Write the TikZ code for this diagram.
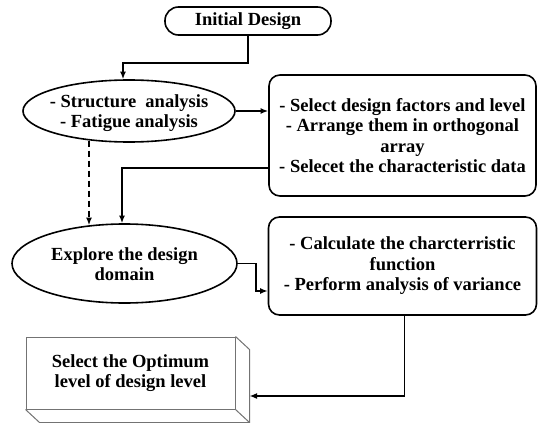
\documentclass[tikz,border=0pt]{standalone}
\usepackage{fontspec}
\setmainfont{Liberation Serif}
\usetikzlibrary{shapes.geometric,arrows.meta,calc}
\begin{document}
\begin{tikzpicture}[x=1pt,y=-1pt,
  every node/.style={font=\fontsize{18.5}{20.5}\selectfont\bfseries},
  txt/.style={align=center, inner sep=0pt},
  rbox/.style={draw, line width=1.6pt, rounded corners=11pt, align=center, inner sep=0pt},
  stad/.style={draw, line width=1.6pt, rounded corners=13.5pt, inner sep=0pt},
  ell/.style={draw, ellipse, line width=1.6pt, inner sep=0pt},
  arr/.style={line width=1.5pt, -{Latex[length=7.5pt,width=6pt]}},
  dasharr/.style={arr, dash pattern=on 6pt off 4pt},
  faint/.style={draw=black!55, line width=1pt}
]
\useasboundingbox (0,0) rectangle (542,423);

% nodes
\node[stad, minimum width=166pt, minimum height=28pt] (init) at (248,21) {Initial Design};
\node[ell, minimum width=212pt, minimum height=62pt] (e1) at (129,111) {};
\node[txt] (t1) at (129,113) {- Structure~ analysis\\- Fatigue analysis};
\node[rbox, minimum width=267pt, minimum height=121pt] (box2) at (402.5,135.5)
  {- Select design factors and level\\- Arrange them in orthogonal\\array\\- Selecet the characteristic data};
\node[ell, minimum width=225pt, minimum height=79pt] (e2) at (124.5,263.5) {};
\node[txt] (t2) at (124.5,264) {Explore the design\\domain};
\node[rbox, minimum width=268pt, minimum height=98pt] (box3) at (402.5,266)
  {- Calculate the charcterristic\\function\\- Perform analysis of variance};

% 3D box
\node[faint, fill=white, minimum width=209pt, minimum height=72pt, inner sep=0pt] (opt) at (130.5,373) {};
\coordinate (sideTop) at ($(opt.north east)+(14,13)$);
\coordinate (sideBot) at ($(opt.south east)+(14,13)$);
\coordinate (botLeft) at ($(opt.south west)+(14,13)$);
\draw[faint] (opt.north east) -- (sideTop) -- (sideBot) -- (opt.south east);
\draw[faint] (opt.south west) -- (botLeft) -- (sideBot);
\node[txt] (t3) at (130.5,373) {Select the Optimum\\level of design level};

% connectors
\draw[arr] (init.south) -- (init.south |- 0,63) -| ([xshift=-6pt]e1.north);
\draw[arr] (e1.east) -- (e1.east -| box2.west);
\draw[arr] (box2.west |- 0,168) -| ([xshift=-2.5pt]e2.north);
\draw[dasharr] ([xshift=-40pt,yshift=2.3pt]e1.south) -- ([xshift=-35.5pt,yshift=-2pt]e2.north);
\draw[arr] (e2.east) -- ++(18,0) |- (box3.west |- 0,291);
\draw[arr] ([xshift=2pt]box3.south) |- (sideBot |- 0,396);
\end{tikzpicture}
\end{document}
